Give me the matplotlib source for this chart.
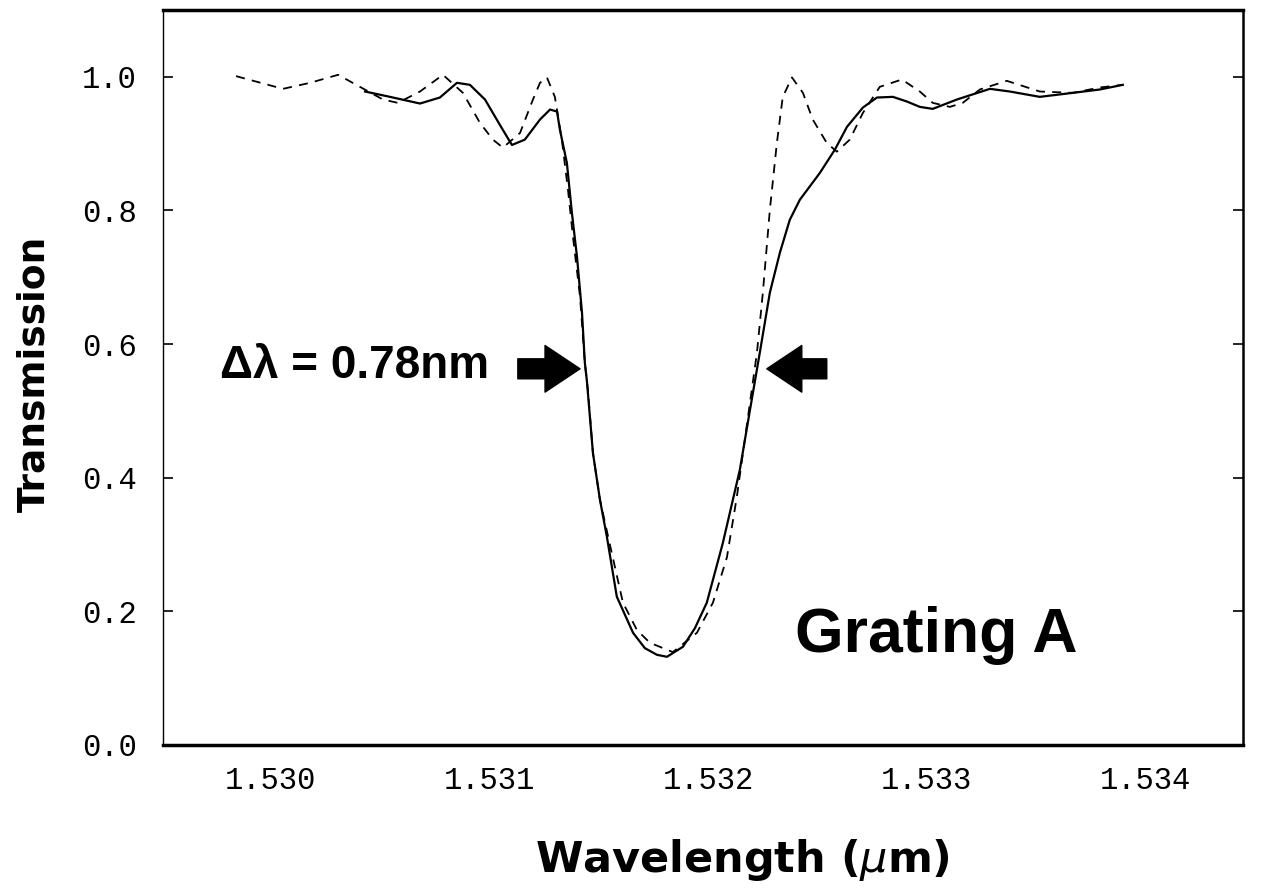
import matplotlib.pyplot as plt
from matplotlib.ticker import FormatStrFormatter

# wavelength (um) and transmission
calc_wl = [1.529845, 1.530059, 1.530183, 1.530311, 1.530516, 1.530584, 1.530685,
           1.530790, 1.530881, 1.530959, 1.531018, 1.531064, 1.531142, 1.531201,
           1.531233, 1.531265, 1.531301, 1.531333, 1.531361, 1.531384, 1.531416,
           1.531438, 1.531452, 1.531475, 1.531507, 1.531553, 1.531612, 1.531676,
           1.531735, 1.531840, 1.531950, 1.532023, 1.532087, 1.532132, 1.532178,
           1.532224, 1.532251, 1.532283, 1.532315, 1.532342, 1.532384, 1.532434,
           1.532479, 1.532543, 1.532589, 1.532648, 1.532708, 1.532785, 1.532886,
           1.532968, 1.533027, 1.533105, 1.533164, 1.533242, 1.533365, 1.533516,
           1.533667, 1.533790, 1.533895]
calc_tr = [1.001, 0.982, 0.991, 1.003, 0.966, 0.961, 0.978,
           1.003, 0.976, 0.931, 0.906, 0.894, 0.916, 0.966,
           0.991, 0.999, 0.970, 0.906, 0.831, 0.760, 0.671,
           0.572, 0.531, 0.437, 0.367, 0.299, 0.213, 0.172,
           0.153, 0.139, 0.168, 0.213, 0.281, 0.371, 0.479,
           0.587, 0.677, 0.801, 0.901, 0.970, 0.999, 0.976,
           0.936, 0.901, 0.888, 0.906, 0.946, 0.985, 0.996,
           0.978, 0.961, 0.955, 0.961, 0.981, 0.994, 0.978,
           0.976, 0.984, 0.988]

meas_wl = [1.530434, 1.530548, 1.530685, 1.530776, 1.530854, 1.530913, 1.530982,
           1.531050, 1.531105, 1.531164, 1.531233, 1.531279, 1.531311, 1.531324,
           1.531356, 1.531379, 1.531402, 1.531425, 1.531438, 1.531447, 1.531475,
           1.531507, 1.531539, 1.531584, 1.531658, 1.531712, 1.531767, 1.531813,
           1.531886, 1.531941, 1.531995, 1.532068, 1.532146, 1.532192, 1.532237,
           1.532283, 1.532329, 1.532374, 1.532420, 1.532511, 1.532580, 1.532635,
           1.532708, 1.532772, 1.532845, 1.532909, 1.532968, 1.533027, 1.533137,
           1.533288, 1.533379, 1.533516, 1.533667, 1.533790, 1.533895]
meas_tr = [0.978, 0.970, 0.960, 0.969, 0.991, 0.988, 0.966,
           0.928, 0.898, 0.906, 0.936, 0.951, 0.948, 0.921,
           0.871, 0.796, 0.731, 0.647, 0.572, 0.546, 0.437,
           0.367, 0.311, 0.222, 0.168, 0.145, 0.135, 0.132,
           0.147, 0.175, 0.213, 0.302, 0.412, 0.501, 0.587,
           0.677, 0.737, 0.786, 0.816, 0.856, 0.891, 0.925,
           0.954, 0.969, 0.970, 0.963, 0.955, 0.952, 0.966,
           0.982, 0.978, 0.970, 0.976, 0.981, 0.988]

xticks = [1.530, 1.531, 1.532, 1.533, 1.534]
yticks = [0.0, 0.2, 0.4, 0.6, 0.8, 1.0]

fig = plt.figure(figsize=(12.63, 8.92), dpi=100)
ax = fig.add_axes([0.129, 0.1648, 0.855, 0.824])

ax.plot(meas_wl, meas_tr, color='black', lw=1.6)
ax.plot(calc_wl, calc_tr, color='black', lw=1.3, dashes=(5, 4))

ax.set_xlim(1.529511, 1.534443)
ax.set_ylim(0, 1.1)
ax.set_xticks(xticks)
ax.set_yticks(yticks)
ax.xaxis.set_major_formatter(FormatStrFormatter('%.3f'))
ax.yaxis.set_major_formatter(FormatStrFormatter('%.1f'))

for lab in ax.get_xticklabels() + ax.get_yticklabels():
    lab.set_fontfamily('Liberation Mono')
    lab.set_fontsize(22)

ax.tick_params(axis='x', length=0, pad=15)
ax.tick_params(axis='y', direction='in', length=7, width=1.2, pad=19,
               left=True, right=True)

ax.spines['left'].set_linewidth(1.0)
ax.spines['bottom'].set_linewidth(2.5)
ax.spines['top'].set_linewidth(2.5)
ax.spines['right'].set_linewidth(1.8)

ax.set_ylabel('Transmission', fontsize=27, fontweight='bold',
              family='DejaVu Sans')
ax.yaxis.set_label_coords(-0.102, 0.505)
fig.text(0.5875, 0.036, r'Wavelength ($\mu$m)', fontsize=31, fontweight='bold',
         family='DejaVu Sans', ha='center', va='center')

# FWHM annotation
ax.text(1.529772, 0.549, 'Δλ = 0.78nm', fontsize=33, fontweight='bold',
        family='Liberation Sans', ha='left', va='baseline')
arrow = dict(arrowstyle='simple,head_length=1.05,head_width=1.4,tail_width=0.6',
             fc='black', ec='black', shrinkA=0, shrinkB=0, mutation_scale=24)
ax.annotate('', xy=(1.531416, 0.563), xytext=(1.531132, 0.563), arrowprops=arrow)
ax.annotate('', xy=(1.532269, 0.563), xytext=(1.532543, 0.563), arrowprops=arrow)

ax.text(1.532397, 0.139, 'Grating A', fontsize=45, fontweight='bold',
        family='Liberation Sans', ha='left', va='baseline')

fig.savefig('out.png', dpi=100)
